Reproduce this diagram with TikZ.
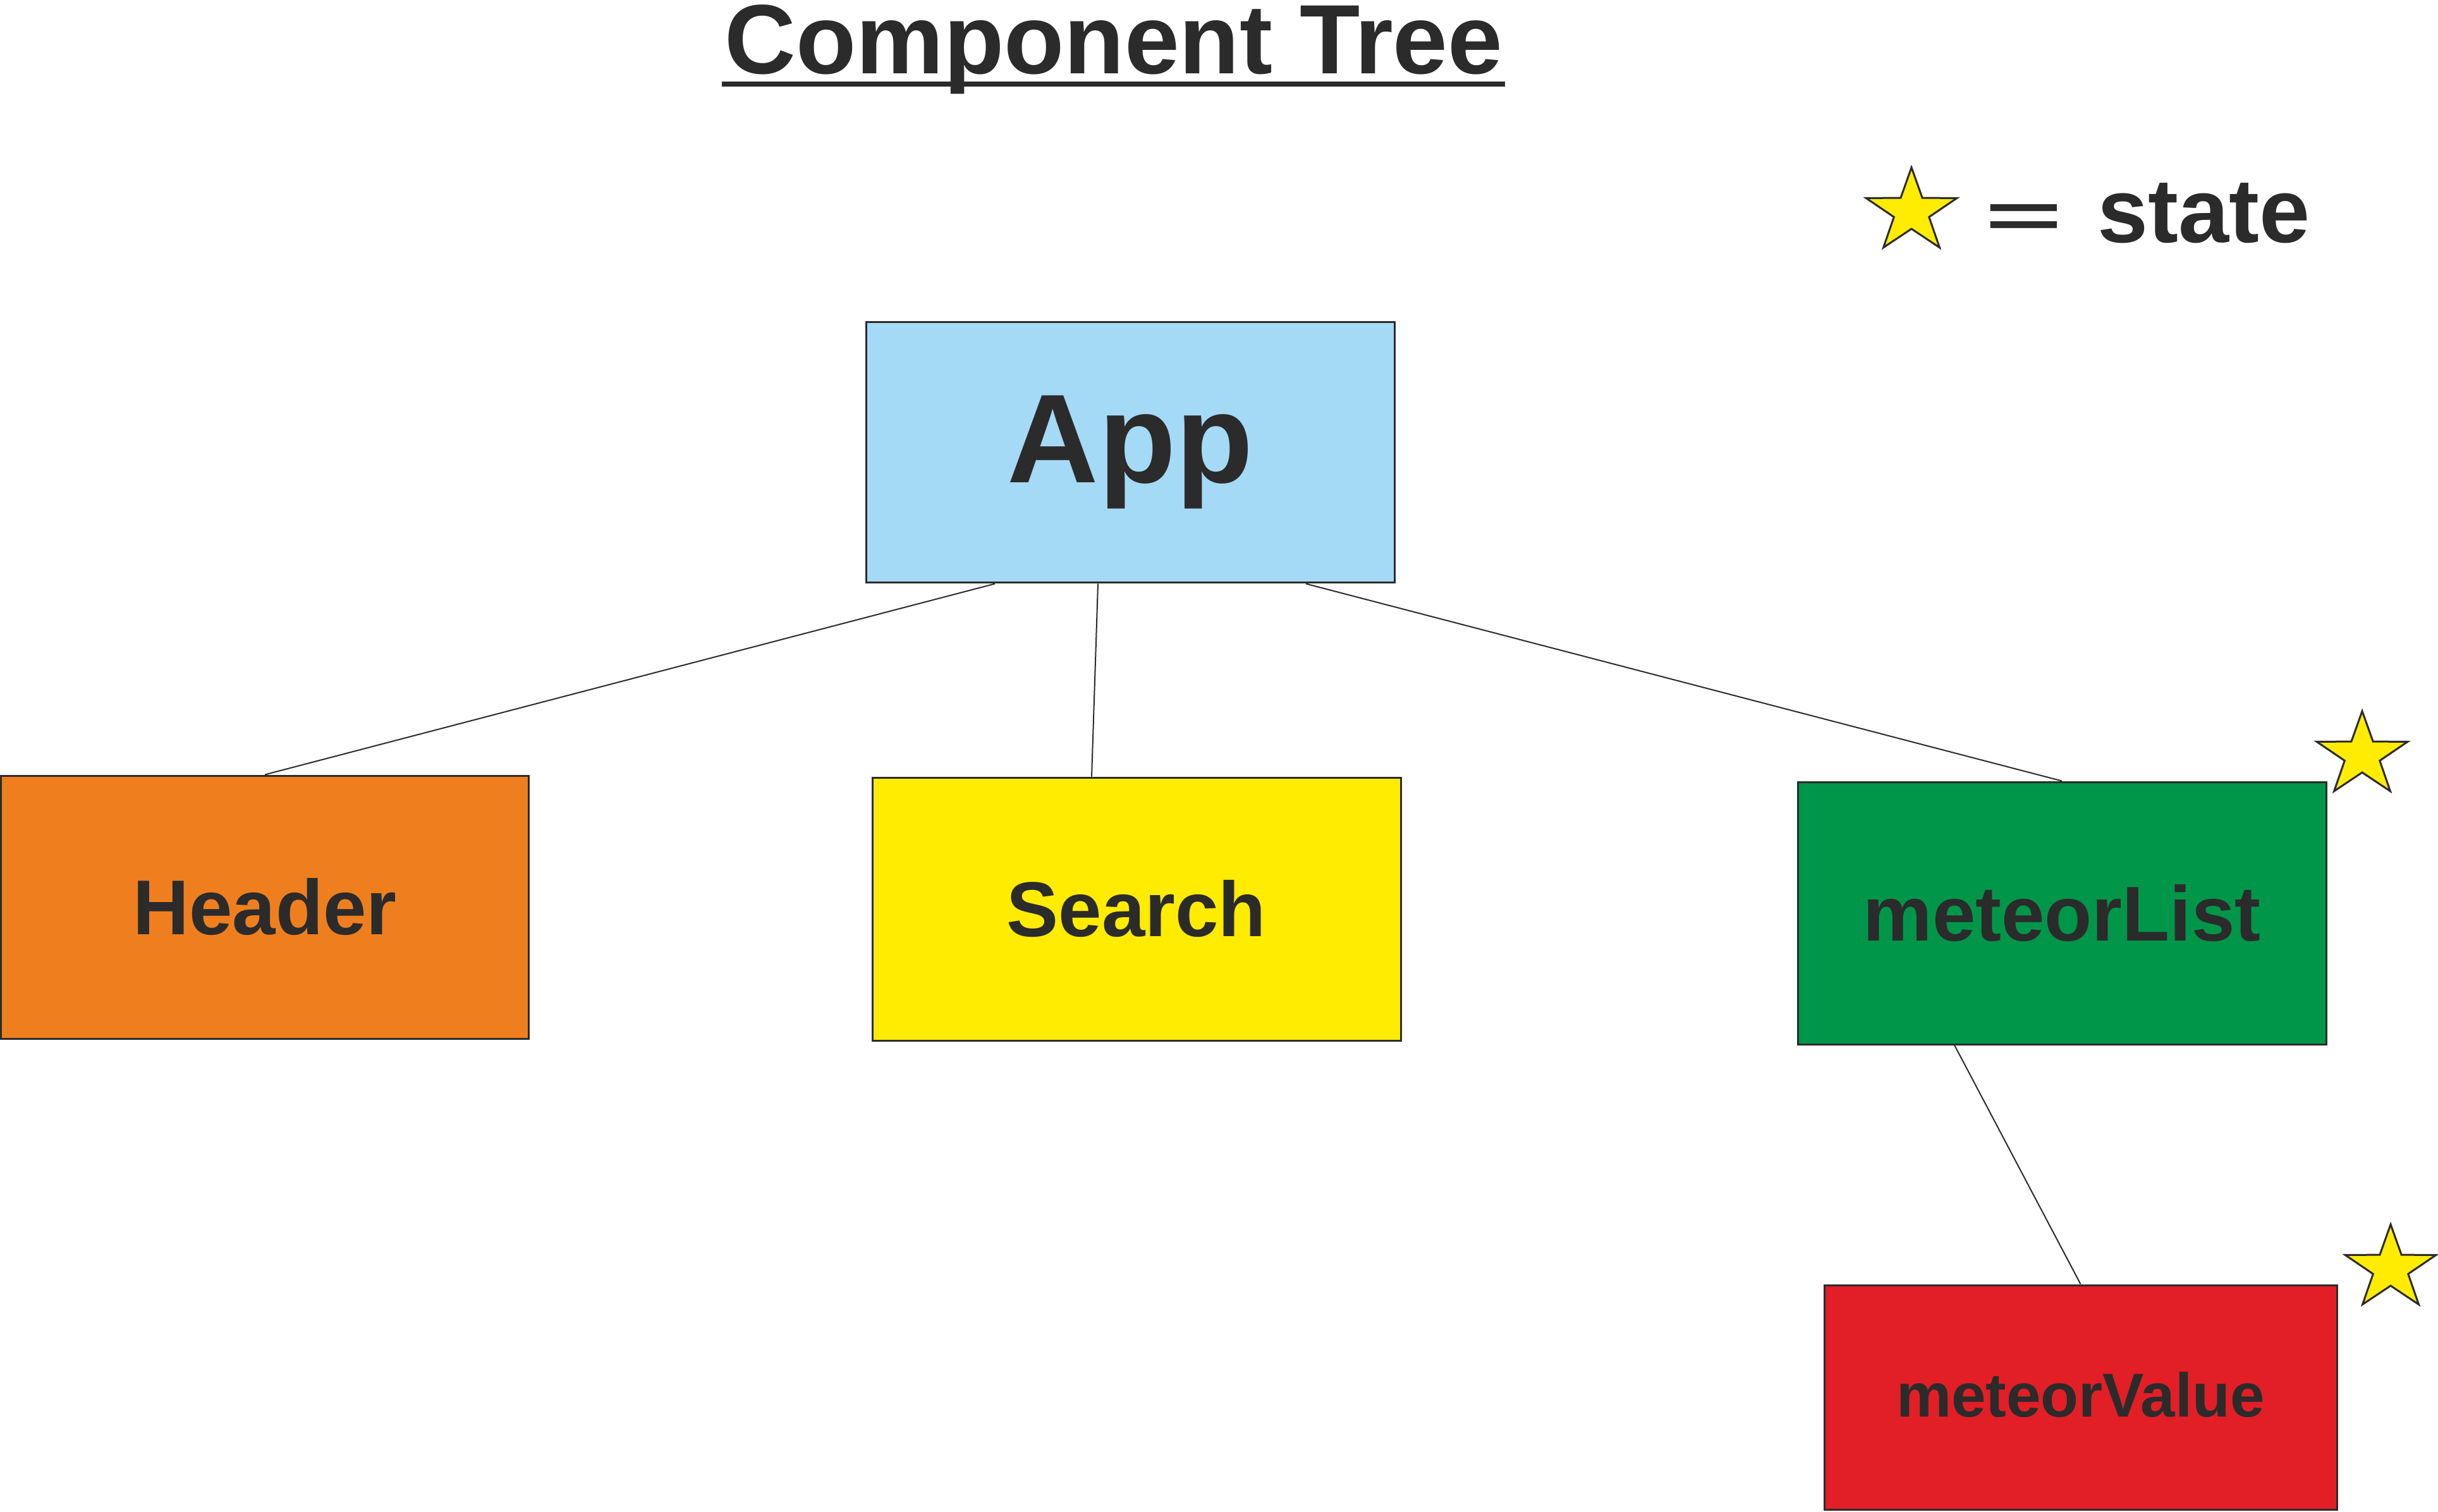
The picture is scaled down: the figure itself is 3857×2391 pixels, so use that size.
\documentclass[tikz,border=0pt]{standalone}
\usepackage{fontspec}
\setmainfont{Liberation Sans}
\usetikzlibrary{shapes.geometric}
\definecolor{txt}{HTML}{2B2B2B}
\definecolor{appblue}{HTML}{A4DAF5}
\definecolor{hdrorange}{HTML}{EF7F1E}
\definecolor{srchyellow}{HTML}{FFEC00}
\definecolor{listgreen}{HTML}{00964A}
\definecolor{valred}{HTML}{E21E26}
\definecolor{staryellow}{HTML}{FFEC00}
\begin{document}
\begin{tikzpicture}[x=0.1pt,y=-0.1pt,
 box/.style={draw=txt, line width=0.3pt, inner sep=0pt, text=txt, font=\bfseries\fontsize{12.3}{14}\selectfont},
 link/.style={draw=txt, line width=0.2pt},
 statestar/.style={star, star points=5, star point ratio=2.59, minimum size=14pt, inner sep=0pt, fill=staryellow, draw=txt, line width=0.3pt, transform shape},
 lbl/.style={text=txt, inner sep=0pt}]
\useasboundingbox (0,0) rectangle (3857,2391);
% title
\node[lbl, anchor=base, font=\bfseries\fontsize{15.6}{18}\selectfont] (title) at (1762,117) {Component Tree};
\draw[txt, line width=0.75pt] (1142,133) -- (2381,133);
% legend
\begin{scope}[shift={(3024,335)}, xscale=1.08]
\node[statestar] (legstar) at (0,0) {};
\end{scope}
\node[lbl, anchor=base, font=\bfseries\fontsize{10}{12}\selectfont] (eq) at (3202,376) {\scalebox{2.1}[1]{=}};
\node[lbl, anchor=base west, font=\bfseries\fontsize{14.4}{17}\selectfont] (state) at (3316,383) {state};
% boxes
\node[box, fill=appblue, minimum width=83.6pt, minimum height=41.3pt, font=\bfseries\fontsize{20}{24}\selectfont] (app) at (1788,715.5) {App};
\node[box, fill=hdrorange, minimum width=83.5pt, minimum height=41.6pt] (header) at (419,1435) {Header};
\node[box, fill=srchyellow, minimum width=83.6pt, minimum height=41.6pt] (search) at (1798,1438) {Search};
\node[box, fill=listgreen, minimum width=83.6pt, minimum height=41.5pt] (mlist) at (3262,1444.5) {meteorList};
\node[box, fill=valred, minimum width=81.1pt, minimum height=35.5pt, font=\bfseries\fontsize{9.8}{12}\selectfont] (mvalue) at (3291.5,2210.5) {\raisebox{0.9pt}{meteorValue}};
% stars
\begin{scope}[shift={(3737,1195)}, xscale=1.08]
\node[statestar] (star1) at (0,0) {};
\end{scope}
\begin{scope}[shift={(3782,2007)}, xscale=1.08]
\node[statestar] (star2) at (0,0) {};
\end{scope}
% connectors
\draw[link] ([xshift=-21.4pt]app.south) -- (header.north);
\draw[link] ([xshift=-5.1pt]app.south) -- ([xshift=-7.1pt]search.north);
\draw[link] ([xshift=27.8pt]app.south) -- (mlist.north);
\draw[link] ([xshift=-17pt]mlist.south) -- (mvalue.north);
\end{tikzpicture}
\end{document}
